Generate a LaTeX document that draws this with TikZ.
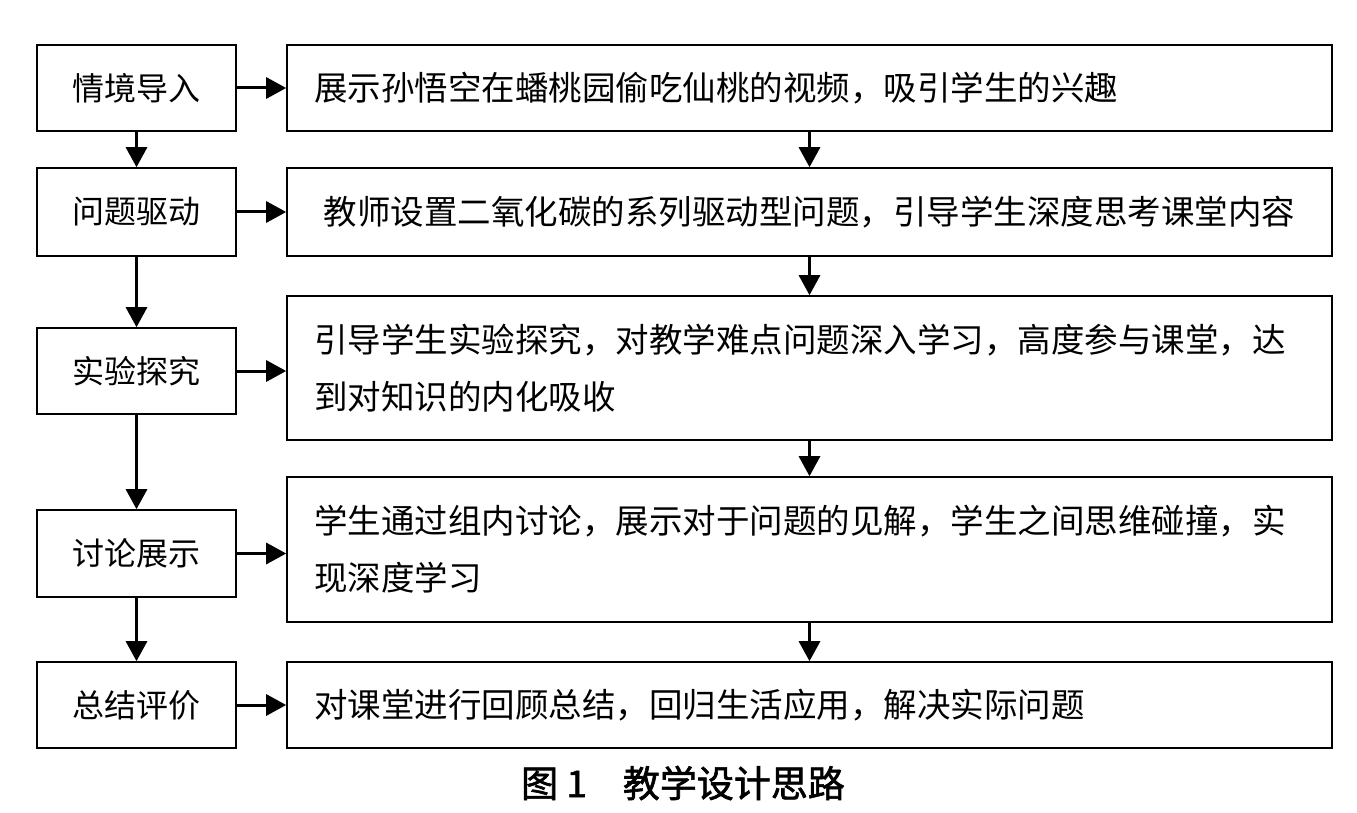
\documentclass[tikz,border=0pt]{standalone}
\usepackage{fontspec}
\newfontfamily\cjk{Noto Sans CJK SC}
\newfontfamily\cjkcap[FakeBold=1.6]{Noto Sans CJK SC}
\usetikzlibrary{arrows.meta}
\tikzset{
  box/.style={draw=black, line width=1.6pt, inner sep=0pt, font=\cjk\fontsize{32}{40}\selectfont},
  leftbox/.style={box, minimum width=199pt, align=center},
  rightbox/.style={box, minimum width=1045pt, text width=991pt, inner xsep=27pt, align=left,
     font=\cjk\fontsize{33.5}{57}\selectfont},
  flow/.style={line width=3pt, -{Triangle[length=20pt,width=21pt]}},
  caption/.style={font=\cjkcap\fontsize{37}{40}\selectfont}
}
\begin{document}
\begin{tikzpicture}[x=1pt,y=-1pt]
\useasboundingbox[fill=white] (0,0) rectangle (1357,813);
% left column
\node[leftbox, minimum height=86pt] (L1) at (136.5,88) {情境导入};
\node[leftbox, minimum height=88pt] (L2) at (136.5,212) {问题驱动};
\node[leftbox, minimum height=86pt] (L3) at (136.5,371) {实验探究};
\node[leftbox, minimum height=87pt] (L4) at (136.5,553.5) {讨论展示};
\node[leftbox, minimum height=86pt] (L5) at (136.5,705) {总结评价};
% right column
\node[rightbox, minimum height=86pt] (R1) at (809.5,88) {展示孙悟空在蟠桃园偷吃仙桃的视频，吸引学生的兴趣};
\node[rightbox, minimum height=88pt, align=center] (R2) at (809.5,212) {教师设置二氧化碳的系列驱动型问题，引导学生深度思考课堂内容};
\node[rightbox, minimum height=144pt] (R3) at (809.5,368) {引导学生实验探究，对教学难点问题深入学习，高度参与课堂，达\\到对知识的内化吸收};
\node[rightbox, minimum height=145pt] (R4) at (809.5,549.5) {学生通过组内讨论，展示对于问题的见解，学生之间思维碰撞，实\\现深度学习};
\node[rightbox, minimum height=86pt] (R5) at (809.5,705) {对课堂进行回顾总结，回归生活应用，解决实际问题};
% left vertical arrows
\draw[flow] (L1.south) -- (L2.north);
\draw[flow] (L2.south) -- (L3.north);
\draw[flow] (L3.south) -- (L4.north);
\draw[flow] (L4.south) -- (L5.north);
% right vertical arrows
\draw[flow] (R1.south) -- (R2.north);
\draw[flow] (R2.south) -- (R3.north);
\draw[flow] (R3.south) -- (R4.north);
\draw[flow] (R4.south) -- (R5.north);
% horizontal arrows
\draw[flow] (L1.east) -- (L1.east -| R1.west);
\draw[flow] (L2.east) -- (L2.east -| R2.west);
\draw[flow] (L3.east) -- (L3.east -| R3.west);
\draw[flow] (L4.east) -- (L4.east -| R4.west);
\draw[flow] (L5.east) -- (L5.east -| R5.west);
% caption
\node[caption] (cap) at (683,783) {图 1\hspace{36pt}教学设计思路};
\end{tikzpicture}
\end{document}
